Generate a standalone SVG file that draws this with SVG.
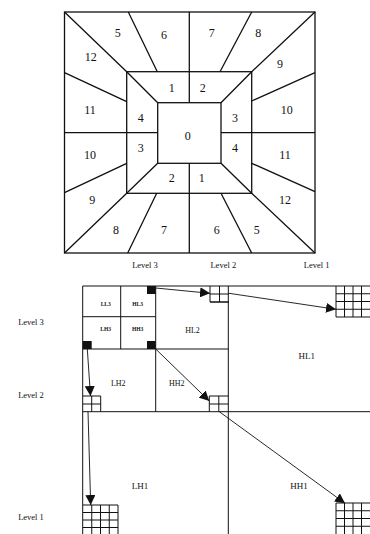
<svg xmlns="http://www.w3.org/2000/svg" width="370" height="534" viewBox="0 0 370 534">
<style>
.ln{stroke:#111;stroke-width:1.3;fill:none}
.tn{stroke:#111;stroke-width:1;fill:none}
.num{font-family:"Liberation Serif",serif;font-size:12px;fill:#111;text-anchor:middle}
.lvl{font-family:"Liberation Serif",serif;font-size:8.5px;fill:#111;text-anchor:middle}
.sb{font-family:"Liberation Serif",serif;font-size:9px;fill:#111;text-anchor:middle}
.sm{font-family:"Liberation Serif",serif;font-size:5.5px;font-weight:bold;fill:#111;text-anchor:middle}
.blk{fill:#111}
.arr{stroke:#111;stroke-width:0.9;fill:none;marker-end:url(#ah)}
</style>
<defs>
<marker id="ah" viewBox="0 0 10 10" refX="10" refY="5" markerWidth="10" markerHeight="10" markerUnits="userSpaceOnUse" orient="auto">
<path d="M0,0 L10,5 L0,10 z" fill="#111"/>
</marker>
</defs>
<rect width="370" height="534" fill="#fff"/>

<g id="pyramid-map">
<rect class="ln" x="64.5" y="12" width="250.5" height="241"/>
<rect class="ln" x="126.7" y="71.7" width="125" height="121.6"/>
<rect class="ln" x="157.7" y="102.7" width="63.3" height="60.6"/>
<path class="ln" d="M64.5,12 L126.7,71.7 M128.3,12 L157.3,71.7 M189.3,12 L189.3,71.7 M251.7,12 L220,71.7 M315,12 L251.7,71.7
M315,72.7 L251.7,101 M251.7,132.7 L315,132.7 M251.7,163.3 L315,191.7 M251.7,193.3 L315,253
M221,193.3 L251.7,253 M189.3,193.3 L189.3,253 M156.7,193.3 L127.7,253 M126.7,193.3 L64.5,253
M64.5,192.7 L126.7,163.3 M64.5,132.7 L126.7,132.7 M64.5,72.7 L126.7,101.7"/>
<path class="ln" d="M126.7,71.7 L157.7,102.7 M189.3,71.7 L189.3,102.7 M251.7,71.7 L221,102.7
M126.7,132.7 L157.7,132.7 M221,132.7 L251.7,132.7
M126.7,193.3 L157.7,163.3 M189.3,163.3 L189.3,193.3 M251.7,193.3 L221,163.3"/>
<text class="num" x="117.7" y="37">5</text>
<text class="num" x="164" y="39">6</text>
<text class="num" x="211.7" y="37">7</text>
<text class="num" x="258.3" y="37">8</text>
<text class="num" x="90.7" y="61">12</text>
<text class="num" x="280" y="68">9</text>
<text class="num" x="90" y="114">11</text>
<text class="num" x="286.7" y="114">10</text>
<text class="num" x="90" y="159">10</text>
<text class="num" x="285" y="159">11</text>
<text class="num" x="92.3" y="204">9</text>
<text class="num" x="285" y="204">12</text>
<text class="num" x="116" y="234">8</text>
<text class="num" x="164" y="234">7</text>
<text class="num" x="216.7" y="234">6</text>
<text class="num" x="256.7" y="234">5</text>
<text class="num" x="171.7" y="92">1</text>
<text class="num" x="202.7" y="92">2</text>
<text class="num" x="140.7" y="122">4</text>
<text class="num" x="235" y="122">3</text>
<text class="num" x="140.7" y="152">3</text>
<text class="num" x="235" y="152">4</text>
<text class="num" x="171.7" y="182">2</text>
<text class="num" x="201.7" y="182">1</text>
<text class="num" x="187.7" y="140">0</text>
<text class="lvl" x="145" y="268">Level 3</text>
<text class="lvl" x="223.3" y="268">Level 2</text>
<text class="lvl" x="316.7" y="268">Level 1</text>
</g>

<g id="subbands">
<path class="tn" d="M82.7,286 L370,286 M82.7,286 L82.7,534 M228.3,286 L228.3,534 M82.7,411.7 L370,411.7
M120.7,286 L120.7,349 M155.7,286 L155.7,411.7 M82.7,316.7 L155.7,316.7 M82.7,349 L228.3,349"/>
<text class="sm" x="105.7" y="305.5">LL3</text>
<text class="sm" x="137.7" y="305.5">HL3</text>
<text class="sm" x="105.7" y="331">LH3</text>
<text class="sm" x="137.7" y="331">HH3</text>
<text class="sb" x="192.5" y="333" style="font-size:8px">HL2</text>
<text class="sb" x="118.3" y="386" style="font-size:8px">LH2</text>
<text class="sb" x="176.7" y="386" style="font-size:8px">HH2</text>
<text class="sb" x="306.7" y="359">HL1</text>
<text class="sb" x="140" y="489">LH1</text>
<text class="sb" x="299" y="489">HH1</text>
<text class="lvl" x="31" y="325">Level 3</text>
<text class="lvl" x="31" y="398">Level 2</text>
<text class="lvl" x="31" y="520">Level 1</text>
</g>

<g id="coeffs">
<rect class="blk" x="147" y="286" width="8.7" height="8"/>
<rect class="blk" x="82.7" y="341" width="9" height="8"/>
<rect class="blk" x="147" y="341" width="8.7" height="8"/>
<path class="tn" d="M210,286 V302 H229 M219.5,286 V302 M210,294 H229 M210,302 H229"/>
<path class="tn" d="M82.7,396 H100.7 V411.7 M91.7,396 V411.7 M82.7,404 H100.7"/>
<path class="tn" d="M209.3,396 H228.3 M209.3,396 V411.7 M218.8,396 V411.7 M209.3,404 H228.3"/>
<path class="tn" d="M336,286 V317 H370 M344.5,286 V317 M353,286 V317 M361.5,286 V317 M336,293.75 H370 M336,301.5 H370 M336,309.25 H370"/>
<path class="tn" d="M336,503 H370 M336,503 V534 M344.5,503 V534 M353,503 V534 M361.5,503 V534 M336,510.75 H370 M336,518.5 H370 M336,526.25 H370"/>
<path class="tn" d="M83,505 H118 V534 M91.75,505 V534 M100.5,505 V534 M109.25,505 V534 M83,512.5 H118 M83,520 H118 M83,527.5 H118"/>
</g>

<g id="connectors">
<path class="arr" d="M155.7,288 L210,293.3"/>
<path class="arr" d="M229,293.3 L336,309.3"/>
<path class="arr" d="M155.7,349 L209.3,401"/>
<path class="arr" d="M219.3,411.7 L345,503.3"/>
<path class="arr" d="M87.3,349 L90.5,396"/>
<path class="arr" d="M88,411.7 L90.7,505"/>
</g>
</svg>
